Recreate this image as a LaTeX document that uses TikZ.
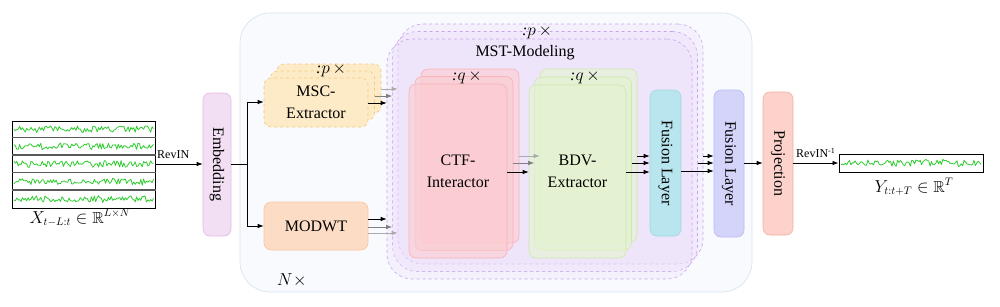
\documentclass[tikz,border=0pt]{standalone}
\usepackage{amssymb}
\usepackage{fontspec}
\setmainfont{Liberation Serif}
\usetikzlibrary{arrows.meta,calc}
\definecolor{contF}{HTML}{F8FAFD}\definecolor{contD}{HTML}{D3E2F2}
\definecolor{embF}{HTML}{F3DFF3}\definecolor{embD}{HTML}{E3B8E6}
\definecolor{mscF}{HTML}{FDEBC8}\definecolor{mscD}{HTML}{F6C97B}
\definecolor{modF}{HTML}{FDDCC6}\definecolor{modD}{HTML}{F9C6A3}
\definecolor{mstF}{HTML}{EBDCFA}\definecolor{mstD}{HTML}{C8A4F0}
\definecolor{ctfF}{HTML}{FDCCD1}\definecolor{ctfD}{HTML}{F7B2B7}
\definecolor{bdvF}{HTML}{E4F4CF}\definecolor{bdvD}{HTML}{CFE8AC}
\definecolor{fu1F}{HTML}{B9E5EE}\definecolor{fu1D}{HTML}{9FD8E4}
\definecolor{fu2F}{HTML}{D4D4FA}\definecolor{fu2D}{HTML}{B9B9F2}
\definecolor{proF}{HTML}{FDD2CB}\definecolor{proD}{HTML}{F5ADA4}
\definecolor{sigG}{HTML}{2ECC2E}
\begin{document}
\begin{tikzpicture}[x=1pt,y=-1pt,
  box/.style={rounded corners=7pt, draw, line width=0.6pt, inner sep=0pt, anchor=center},
  big/.style={font=\fontsize{16}{22}\selectfont, align=center},
  vtext/.style={rotate=-90, font=\fontsize{16}{19}\selectfont, inner sep=0pt},
  lab/.style={font=\fontsize{16}{19}\selectfont, inner sep=0pt},
  small/.style={font=\fontsize{12}{14}\selectfont, inner sep=0pt},
  arr/.style={line width=0.8pt, -{Latex[length=6pt,width=4.5pt]}},
  arrg/.style={arr, draw=black!50, -{Latex[length=6pt,width=4.5pt,color=black!50]}},
  arrl/.style={arr, draw=black!33, -{Latex[length=6pt,width=4.5pt,color=black!33]}},
  sig/.style={draw=sigG, line width=0.8pt, line join=round}
]
\useasboundingbox (0,0) rectangle (1000,306);
% container
\node[box, rounded corners=30pt, fill=contF, draw=contD, minimum width=512pt, minimum height=279pt] (cont) at (496,152.5) {};
\node[lab, anchor=west] (nx) at (277,280) {$N$\kern0.5pt$\times$};
% embedding
\node[box, fill=embF, draw=embD, minimum width=28pt, minimum height=143pt] (emb) at (217,164.5) {};
\node[vtext] (embt) at (emb) {Embedding};
% MSC stack
\node[box, dashed, fill=mscF, draw=mscD, minimum width=104pt, minimum height=49pt] (msc3) at (329,88.5) {};
\node[box, dashed, fill=mscF, draw=mscD, minimum width=104pt, minimum height=49pt] (msc2) at (322.5,95.5) {};
\node[box, dashed, fill=mscF, draw=mscD, minimum width=104pt, minimum height=49pt, big] (msc1) at (316,102.5) {MSC-\\Extractor};
\node[lab] (mscp) at (331,70) {{\itshape :}$p$\,$\times$};
% MODWT
\node[box, fill=modF, draw=modD, minimum width=104pt, minimum height=48pt, big] (mod) at (316,226) {MODWT};
% MST stack
\begin{scope}[fill opacity=0.3]
\node[box, dashed, rounded corners=25pt, fill=mstF, draw=mstD, minimum width=305pt, minimum height=240pt] (mst3) at (550.5,144) {};
\node[box, dashed, rounded corners=25pt, fill=mstF, draw=mstD, minimum width=305pt, minimum height=240pt] (mst2) at (545,151.5) {};
\node[box, dashed, rounded corners=25pt, fill=mstF, draw=mstD, minimum width=305pt, minimum height=240pt] (mst1) at (539.5,159) {};
\end{scope}
\node[lab] (mstp) at (537,32) {{\itshape :}$p$\,$\times$};
\node[big] (mstt) at (525,53) {MST-Modeling};
% CTF stack
\begin{scope}[fill opacity=0.6]
\node[box, fill=ctfF, draw=ctfD, minimum width=98pt, minimum height=174pt] (ctf3) at (470,156) {};
\node[box, fill=ctfF, draw=ctfD, minimum width=98pt, minimum height=174pt] (ctf2) at (464,163.5) {};
\node[box, fill=ctfF, draw=ctfD, minimum width=98pt, minimum height=174pt] (ctf1) at (458,171) {};
\end{scope}
\node[big] (ctft) at (ctf1) {CTF-\\Interactor};
\node[lab] (ctfq) at (467,77) {{\itshape :}$q$\,$\times$};
% BDV stack
\begin{scope}[fill opacity=0.6]
\node[box, fill=bdvF, draw=bdvD, minimum width=97pt, minimum height=173pt] (bdv3) at (588.5,155.5) {};
\node[box, fill=bdvF, draw=bdvD, minimum width=97pt, minimum height=173pt] (bdv2) at (583,163.5) {};
\node[box, fill=bdvF, draw=bdvD, minimum width=97pt, minimum height=173pt] (bdv1) at (577.5,171.5) {};
\end{scope}
\node[big] (bdvt) at (bdv1) {BDV-\\Extractor};
\node[lab] (bdvq) at (585,77) {{\itshape :}$q$\,$\times$};
% fusion layers, projection
\node[box, fill=fu1F, draw=fu1D, minimum width=31pt, minimum height=146pt] (fu1) at (665.5,163) {};
\node[vtext] (fu1t) at (fu1) {Fusion Layer};
\node[box, fill=fu2F, draw=fu2D, minimum width=30pt, minimum height=147pt] (fu2) at (729,163.5) {};
\node[vtext] (fu2t) at (fu2) {Fusion Layer};
\node[box, fill=proF, draw=proD, minimum width=30pt, minimum height=143pt] (pro) at (778,163.5) {};
\node[vtext] (prot) at (pro) {Projection};
% input series
\node[draw, line width=1pt, minimum width=143pt, minimum height=87pt, inner sep=0pt] (inp) at (83.5,164.5) {};
\pgfmathsetseed{11}
\foreach \yy in {129,146.5,164,181.5,199}{
  \draw[sig] plot[domain=14:153.5,samples=100] (\x,{\yy+3.3*rand+1.4*rand*rand*rand});
}
\foreach \yy in {137.5,155,172.5,190}{
  \draw[line width=1.3pt, black!65] (inp.west |- 0,\yy) -- (inp.east |- 0,\yy);
}
\node[lab] (xlab) at (80,218) {$X_{t-L:t}\in\mathbb{R}^{L\times N}$};
% output series
\node[draw, line width=1pt, minimum width=144pt, minimum height=18pt, inner sep=0pt] (outp) at (911,163) {};
\draw[sig] plot[domain=841:981,samples=100] (\x,{163+3.2*rand+1.6*rand*rand*rand});
\node[lab] (ylab) at (914,187) {$Y_{t:t+T}\in\mathbb{R}^{T}$};
% connectors
\draw[arr] (inp.east |- 0,164) -- (emb.west |- 0,164);
\node[small, anchor=south west] (revin) at (157,159) {RevIN};
\coordinate (split) at (247,164);
\draw[line width=0.8pt] (emb.east |- split) -- (split);
\draw[arr] (split) |- (msc1.west |- 0,102);
\draw[arr] (split) |- (mod.west |- 0,226);
% MSC -> MST
\draw[arr] (msc1.east |- 0,103) -- (mst1.west |- 0,103);
\draw[arrg] (msc2.east |- 0,96) -- (mst2.west |- 0,96);
\draw[arrl] (msc3.east |- 0,89) -- (mst3.west |- 0,89);
% MODWT -> MST
\draw[arr] (mod.east |- 0,219) -- (mst1.west |- 0,219);
\draw[arrg] (mod.east |- 0,227) -- (mst2.west |- 0,227);
\draw[arrl] (mod.east |- 0,233) -- (mst3.west |- 0,233);
% CTF -> BDV
\draw[arr] (ctf1.east |- 0,172) -- (bdv1.west |- 0,172);
\draw[arrg] (ctf2.east |- 0,163) -- (bdv2.west |- 0,163);
\draw[arrl] (ctf3.east |- 0,156) -- (bdv3.west |- 0,156);
% BDV -> Fusion 1
\draw[arr] (bdv1.east |- 0,172) -- (fu1.west |- 0,172);
\draw[arr] (bdv2.east |- 0,163) -- (fu1.west |- 0,163);
\draw[arr] (bdv3.east |- 0,156) -- (fu1.west |- 0,156);
% Fusion 1 / MST copies -> Fusion 2
\draw[arr] (fu1.east |- 0,171) -- (fu2.west |- 0,171);
\draw[arr] (mst2.east |- 0,163) -- (fu2.west |- 0,163);
\draw[arr] (mst3.east |- 0,156) -- (fu2.west |- 0,156);
% Fusion 2 -> Projection -> output
\draw[arr] (fu2.east |- 0,163) -- (pro.west |- 0,163);
\draw[arr] (pro.east |- 0,163) -- (outp.west);
\node[small, anchor=south west] (revin2) at (796,158) {RevIN\textsuperscript{-1}};
\end{tikzpicture}
\end{document}
